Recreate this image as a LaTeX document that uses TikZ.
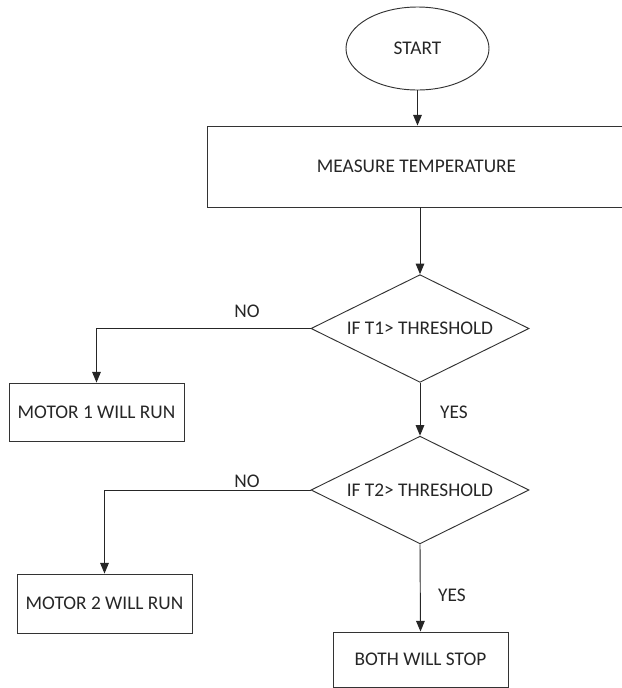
\documentclass[tikz,border=0pt]{standalone}
\usepackage{fontspec}
\setmainfont{Carlito}
\usetikzlibrary{calc}
\usetikzlibrary{arrows.meta}
\usetikzlibrary{shapes.geometric}
\usetikzlibrary{positioning}

\begin{document}
\begin{tikzpicture}[x=0.03cm, y=-0.03cm,
  every node/.style={font=\fontsize{16.5}{19}\selectfont, text=black!85},
  flowbox/.style={draw=black!80, line width=0.8pt, rectangle, inner sep=0pt},
  decide/.style={draw=black!80, line width=0.8pt, diamond, aspect=2, inner sep=0pt, minimum width=6.54cm, minimum height=3.23cm},
  flow/.style={draw=black!85, line width=0.8pt, -{Triangle[length=3.2mm, width=2.6mm]}}]
\useasboundingbox (0,0) rectangle (622,688);

\node[draw=black!80, line width=0.8pt, ellipse, minimum width=4.29cm, minimum height=2.49cm] (start) at (417.5,48.5) {START};
\node[flowbox, minimum width=12.57cm, minimum height=2.43cm] (measure) at (416.5,166.5) {MEASURE TEMPERATURE};
\node[decide] (ifone) at (420,328.5) {IF T1> THRESHOLD};
\node[flowbox, minimum width=5.25cm, minimum height=1.74cm] (motorone) at (96.5,412) {MOTOR 1 WILL RUN};
\node[decide] (iftwo) at (420,490) {IF T2> THRESHOLD};
\node[flowbox, minimum width=5.25cm, minimum height=1.77cm] (motortwo) at (104.5,603.5) {MOTOR 2 WILL RUN};
\node[flowbox, minimum width=5.25cm, minimum height=1.65cm] (both) at (420.5,659.5) {BOTH WILL STOP};

\node (noone) at (247,311) {NO};
\node (notwo) at (247,481) {NO};
\node (yesone) at (454,412) {YES};
\node (yestwo) at (452,595) {YES};

\draw[flow] (start.south) -- (start.south |- measure.north);
\draw[flow] (ifone.north |- measure.south) -- (ifone.north);
\draw[flow] (ifone.west) -| (motorone.north);
\draw[flow] (ifone.south) -- (iftwo.north);
\draw[flow] (iftwo.west) -| (motortwo.north);
\draw[flow] (iftwo.south) -- (both.north);
\end{tikzpicture}
\end{document}
